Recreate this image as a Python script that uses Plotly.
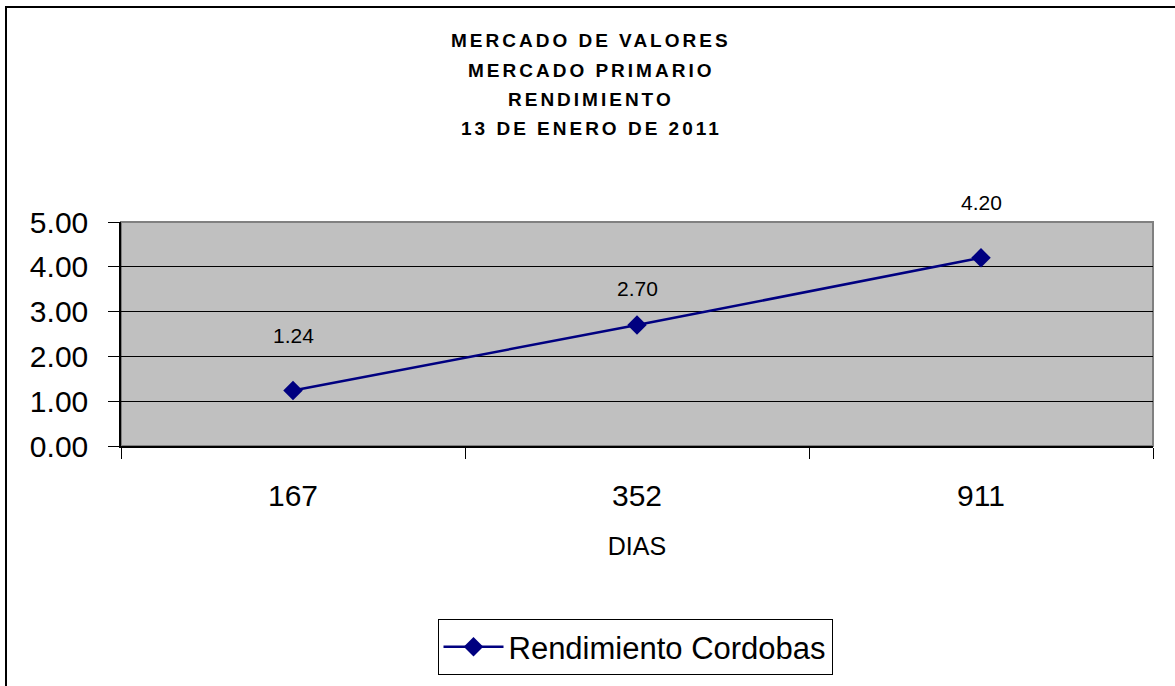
import plotly.graph_objects as go

# ---- data ----
dias = ["167", "352", "911"]
rendimiento = [1.24, 2.70, 4.20]
series_name = "Rendimiento Cordobas"
title_lines = ["MERCADO DE VALORES", "MERCADO PRIMARIO", "RENDIMIENTO", "13 DE ENERO DE 2011"]
y_ticks = [0, 1, 2, 3, 4, 5]
x_title = "DIAS"

# ---- style / layout ----
W, H = 1175, 686
L, T = 121, 222
R = W - 1153
B = H - 447
plot_w, plot_h = W - L - R, H - T - B
FONT = "Liberation Sans, Arial, sans-serif"
NAVY = "#000080"
label_shift = [55, 37, 55]  # vertical offsets of data labels (px)


def py(ypx):
    """pixel y -> paper coordinate"""
    return (H - B - ypx) / plot_h


def px(xpx):
    """pixel x -> paper coordinate"""
    return (xpx - L) / plot_w


fig = go.Figure()
fig.add_trace(go.Scatter(
    x=dias, y=rendimiento, mode="lines+markers", name=series_name,
    line=dict(color=NAVY, width=2.5),
    marker=dict(symbol="diamond", size=15, color=NAVY),
    cliponaxis=False,
))

annotations = []
for i, (yv, sh) in enumerate(zip(rendimiento, label_shift)):
    annotations.append(dict(x=i, y=yv, xref="x", yref="y", text=f"{yv:.2f}",
                            showarrow=False, yshift=sh,
                            font=dict(family=FONT, size=21, color="#000")))

title_y_px = [40, 70, 99, 128]
for line, ypx in zip(title_lines, title_y_px):
    annotations.append(dict(x=px(591), y=py(ypx), xref="paper", yref="paper",
                            text=f"<b><span style='letter-spacing:3px'>{line}</span></b>",
                            showarrow=False, xanchor="center", yanchor="middle",
                            font=dict(family=FONT, size=19, color="#000")))

shapes = [
    # outer chart border (left and top visible)
    dict(type="rect", xref="paper", yref="paper",
         x0=px(6), x1=px(1185), y0=py(700), y1=py(6),
         line=dict(color="#000", width=2), fillcolor="rgba(0,0,0,0)", layer="below"),
    # plot area frame
    dict(type="rect", xref="paper", yref="paper", x0=0, x1=1, y0=0, y1=1,
         line=dict(color="#808080", width=2), fillcolor="rgba(0,0,0,0)", layer="below"),
]

fig.update_layout(
    width=W, height=H,
    margin=dict(l=L, r=R, t=T, b=B, pad=0),
    paper_bgcolor="white", plot_bgcolor="#C0C0C0",
    font=dict(family=FONT, color="#000"),
    showlegend=True,
    legend=dict(x=px(635), y=py(619), xanchor="center", yanchor="top",
                bordercolor="#000", borderwidth=1, bgcolor="white",
                font=dict(family=FONT, size=31, color="#000"),
                itemwidth=60),
    annotations=annotations,
    shapes=shapes,
)

fig.update_xaxes(
    type="category", range=[-0.5, 2.5], tickson="boundaries",
    ticks="outside", ticklen=11, tickcolor="#000", tickwidth=1,
    showline=True, linecolor="#000", linewidth=1.5,
    showgrid=False, tickfont=dict(family=FONT, size=30),
    ticklabelstandoff=22,
    title=dict(text=x_title, font=dict(family=FONT, size=25), standoff=27),
)
fig.update_yaxes(
    range=[0, 5], tickvals=y_ticks, tickformat=".2f",
    ticks="outside", ticklen=11, tickcolor="#000", tickwidth=1,
    showline=True, linecolor="#000", linewidth=1.5,
    showgrid=True, gridcolor="#000", gridwidth=1,
    zeroline=False,
    tickfont=dict(family=FONT, size=30), ticklabelstandoff=14,
)

fig.write_html(
    "out.html",
    config={"displayModeBar": False},
    post_script="document.body.style.margin='0px';document.body.style.padding='0px';",
)
